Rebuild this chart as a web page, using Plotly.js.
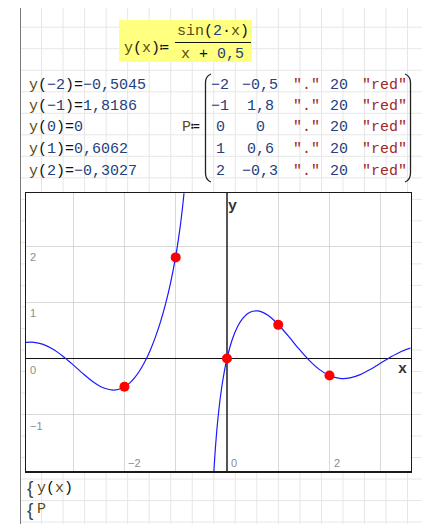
<!DOCTYPE html>
<html>
<head>
<meta charset="utf-8">
<script src="https://cdn.plot.ly/plotly-3.0.1.min.js"></script>
<style>
  html, body { margin: 0; padding: 0; background: #fff; }
  /* worksheet grid behind the plot region */
  #sheet {
    position: absolute; left: 20px; top: 8px; width: 402px; height: 516px;
    border-left: 1.5px solid #7a7a7a;
    background-image:
      linear-gradient(to right, #e6e6e6 1px, transparent 1px),
      linear-gradient(to bottom, #e6e6e6 1px, transparent 1px);
    background-size: 21.54px 21.52px;
    background-position: -1.5px -2.8px;
  }
  #chart { position: absolute; left: 0; top: 0; width: 422px; height: 524px; }
</style>
</head>
<body>
<div id="sheet"></div>
<div id="chart"></div>
<script>
// y(x) = sin(2x)/(x+0,5), sampled on both sides of the pole at x = -0,5
const curveX = [-4.0, -3.8, -3.6, -3.4, -3.2, -3.0, -2.8, -2.6, -2.4, -2.2, -2.0, -1.9, -1.8, -1.7, -1.6,
  -1.5, -1.4, -1.3, -1.2, -1.1, -1.0, -0.95, -0.9, -0.85, -0.8, -0.75, null,
  -0.35, -0.3, -0.25, -0.2, -0.15, -0.1, -0.05, 0, 0.1, 0.2, 0.3, 0.4, 0.5, 0.6, 0.7, 0.8, 0.9, 1.0,
  1.2, 1.4, 1.6, 1.8, 2.0, 2.2, 2.4, 2.6, 2.8, 3.0, 3.2, 3.4, 3.6, 3.8];
const curveY = [0.2827, 0.2933, 0.2560, 0.1704, 0.0431, -0.1118, -0.2745, -0.4207, -0.5243, -0.5598, -0.5045, -0.4371, -0.3404, -0.2129, -0.0531,
  0.1411, 0.3722, 0.6444, 0.9650, 1.3475, 1.8186, 2.1029, 2.4345, 2.8334, 3.3320, 3.9900, null,
  -4.2947, -2.8232, -1.9177, -1.2981, -0.8443, -0.4967, -0.2218, 0, 0.3311, 0.5563, 0.7058, 0.7971, 0.8415, 0.8473, 0.8212, 0.7689, 0.6956, 0.6062,
  0.3974, 0.1763, -0.0278, -0.1924, -0.3027, -0.3524, -0.3435, -0.2850, -0.1913, -0.0798, 0.0315, 0.1267, 0.1936, 0.2251];

// matrix P: points, marker style, size, colour
const pX = [-2, -1, 0, 1, 2];
const pY = [-0.5, 1.8, 0, 0.6, -0.3];
const pStyle = ['.', '.', '.', '.', '.'];
const pSize = [20, 20, 20, 20, 20];
const pColor = ['red', 'red', 'red', 'red', 'red'];

// evaluated values y(-2) ... y(2)
const evalArgs = [-2, -1, 0, 1, 2];
const evalVals = [-0.5045, 1.8186, 0, 0.6062, -0.3027];

// axis tick labels
const xTickVals = [-2, 0, 2];
const yTickVals = [-1, 0, 1, 2];

const W = 422, H = 524;
const MONO = 'Liberation Mono, Courier New, monospace';
const SANS = 'Liberation Sans, Arial, sans-serif';
const VAR = '#5c4a12';
const NUM = '#24407e';
const STR = '#a02828';
const FS = 15;

const px = x => x / W;
const py = y => 1 - y / H;
const fmt = v => (v < 0 ? '\u2212' : '') + String(Math.abs(v)).replace('.', ',');
const span = (c, t) => `<span style="color:${c}">${t}</span>`;

function note(text, x, y, o) {
  o = o || {};
  return {
    text: text, xref: 'paper', yref: 'paper', x: px(x), y: py(y),
    xanchor: o.xa || 'left', yanchor: o.ya || 'middle', showarrow: false,
    font: { family: o.family || MONO, size: o.size || FS, color: o.color || '#111' }
  };
}

const annotations = [];
const shapes = [];

// definition block
shapes.push({ type: 'rect', xref: 'paper', yref: 'paper', x0: px(119), x1: px(252), y0: py(20), y1: py(62),
  fillcolor: '#ffff80', line: { width: 0 }, layer: 'below' });
annotations.push(note(span(VAR, 'y') + '(' + span(VAR, 'x') + ')\u2254', 171, 48, { xa: 'right' }));
annotations.push(note(span(VAR, 'sin') + '(' + span(NUM, '2') + '\u00b7' + span(VAR, 'x') + ')', 213, 31, { xa: 'center' }));
annotations.push(note(span(VAR, 'x') + ' + ' + span(NUM, '0,5'), 212, 55, { xa: 'center' }));
shapes.push({ type: 'line', xref: 'paper', yref: 'paper', x0: px(175), x1: px(251), y0: py(42.5), y1: py(42.5),
  line: { color: '#111', width: 1 } });

// evaluations and matrix P
const rowY = i => 85 + 21.5 * i;
evalArgs.forEach((a, i) => {
  const t = span(VAR, 'y') + '(' + span(NUM, fmt(a)) + ')=' + span(NUM, fmt(evalVals[i]));
  annotations.push(note(t, 27, rowY(i)));
});
annotations.push(note(span(VAR, 'P') + '\u2254', 202, rowY(2), { xa: 'right' }));
const colX = [220, 260, 306, 339, 384];
pX.forEach((v, i) => {
  const cells = [span(NUM, fmt(v)), span(NUM, fmt(pY[i])), span(STR, '"' + pStyle[i] + '"'),
    span(NUM, String(pSize[i])), span(STR, '"' + pColor[i] + '"')];
  cells.forEach((c, j) => annotations.push(note(c, colX[j], rowY(i), { xa: 'center' })));
});
function bracket(xa, xb, top, bot) {
  return `M${px(xa)},${py(top)} Q${px(xb)},${py(top + 2)} ${px(xb)},${py(top + 9)} L${px(xb)},${py(bot - 9)} Q${px(xb)},${py(bot - 2)} ${px(xa)},${py(bot)}`;
}
shapes.push({ type: 'path', xref: 'paper', yref: 'paper', path: bracket(211, 205.5, 74, 182), line: { color: '#222', width: 1.3 } });
shapes.push({ type: 'path', xref: 'paper', yref: 'paper', path: bracket(405, 410.5, 74, 182), line: { color: '#222', width: 1.3 } });

// trace list under the plot
annotations.push(note('{', 25, 487, { size: 19, color: '#444', family: SANS }));
annotations.push(note('{', 25, 509, { size: 19, color: '#444', family: SANS }));
annotations.push(note(span(VAR, 'y') + '(' + span(VAR, 'x') + ')', 35, 488));
annotations.push(note(span(VAR, 'P'), 35, 509));

// axis names
annotations.push(note('<b>y</b>', 232, 206, { xa: 'center', color: '#333' }));
annotations.push(note('<b>x</b>', 402, 369, { xa: 'center', color: '#333' }));

// tick labels inside the plot
const XMIN = -3.92, XMAX = 3.58, YMIN = -2.0, YMAX = 2.94;
xTickVals.forEach(v => annotations.push({
  text: fmt(v), xref: 'x', yref: 'y', x: v, y: YMIN, xanchor: 'left', yanchor: 'bottom',
  xshift: 2, yshift: 0, showarrow: false, font: { family: SANS, size: 11, color: '#8c8c8c' }
}));
yTickVals.forEach(v => annotations.push({
  text: fmt(v), xref: 'x', yref: 'y', x: XMIN, y: v, xanchor: 'left', yanchor: 'top',
  xshift: 2, yshift: -3, showarrow: false, font: { family: SANS, size: 11, color: '#8c8c8c' }
}));

const traces = [
  { x: curveX, y: curveY, type: 'scatter', mode: 'lines', connectgaps: false,
    line: { color: '#1a1aff', width: 1.2, shape: 'spline', smoothing: 0.8 }, hoverinfo: 'skip' },
  { x: pX, y: pY, type: 'scatter', mode: 'markers',
    marker: { color: '#ff0000', size: 10 }, hoverinfo: 'skip' }
];

const axisCommon = {
  dtick: 1, tick0: 0, showgrid: true, gridcolor: '#d9d9d9', gridwidth: 1,
  zeroline: true, showticklabels: false, ticks: '',
  showline: true, mirror: true, linecolor: '#1a1a1a', linewidth: 1.5, fixedrange: true
};

const layout = {
  width: W, height: H, margin: { l: 0, r: 0, t: 0, b: 0 },
  paper_bgcolor: 'rgba(0,0,0,0)', plot_bgcolor: '#ffffff',
  showlegend: false,
  xaxis: Object.assign({}, axisCommon, { range: [XMIN, XMAX], domain: [px(26), px(410.5)],
    zerolinecolor: '#555', zerolinewidth: 1.5 }),
  yaxis: Object.assign({}, axisCommon, { range: [YMIN, YMAX], domain: [py(471), py(193.3)],
    zerolinecolor: '#111', zerolinewidth: 1.3 }),
  annotations: annotations,
  shapes: shapes
};

Plotly.newPlot('chart', traces, layout, { staticPlot: true, displayModeBar: false });
</script>
</body>
</html>
